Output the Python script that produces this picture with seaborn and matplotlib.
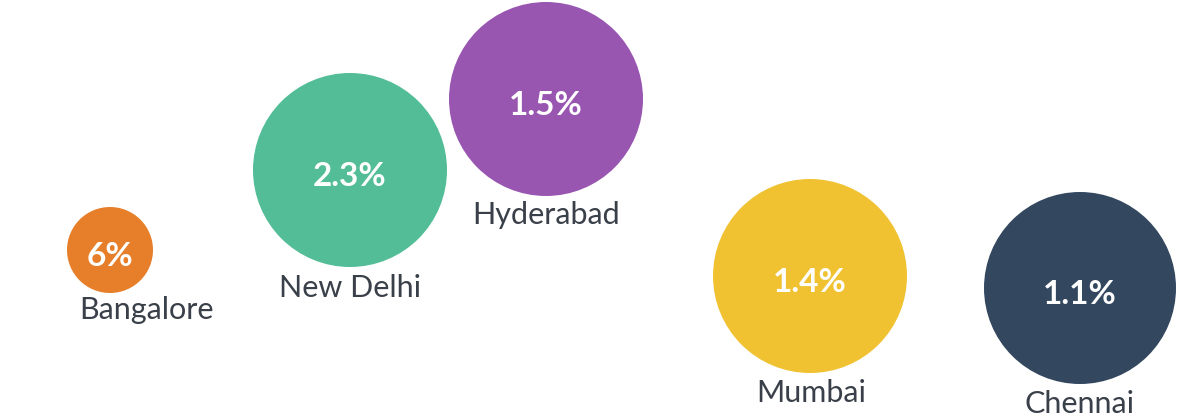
import numpy as np
import pandas as pd
import matplotlib
matplotlib.use("Agg")
import matplotlib.pyplot as plt
import seaborn as sns

# ---- data ----
cities = ["Bangalore", "New Delhi", "Hyderabad", "Mumbai", "Chennai"]
values = [6, 2.3, 1.5, 1.4, 1.1]

# ---- style ----
colors = ["#E67E2A", "#53BD98", "#9856B1", "#F0C232", "#33475E"]
radius_px = {"Bangalore": 43, "New Delhi": 97, "Hyderabad": 97, "Mumbai": 97, "Chennai": 96}
label_dx = {"Bangalore": 36, "New Delhi": 0, "Hyderabad": 0, "Mumbai": 1, "Chennai": 0}
label_gap = {"Bangalore": 26, "New Delhi": 30, "Hyderabad": 28, "Mumbai": 29, "Chennai": 29}

# ---- layout (bubble centres on a free canvas) ----
layout_x = [110, 350, 546, 810, 1080]
layout_y = [250, 170, 99, 276, 288]

DPI = 100
W, H = 1178, 418

df = pd.DataFrame({"city": cities, "value": values, "x": layout_x, "y": layout_y})

sns.set_theme(style="white")
plt.rcParams["font.family"] = ["Lato", "DejaVu Sans"]

fig = plt.figure(figsize=(W / DPI, H / DPI), dpi=DPI)
ax = fig.add_axes([0, 0, 1, 1])
ax.set_xlim(0, W)
ax.set_ylim(H, 0)
ax.set_axis_off()

# marker area in points^2 from radius in pixels
sizes = {c: (2 * r * 72 / DPI) ** 2 for c, r in radius_px.items()}
palette = dict(zip(cities, colors))

sns.scatterplot(data=df, x="x", y="y", hue="city", size="city",
                palette=palette, sizes=sizes, legend=False,
                linewidth=0, alpha=1, ax=ax)

for _, row in df.iterrows():
    c = row["city"]
    ax.annotate(f"{row['value']:g}%", (row["x"], row["y"]),
                xytext=(0, -16), textcoords="offset pixels",
                ha="center", va="baseline", color="white",
                fontsize=24, fontweight="bold")
    r = radius_px[c]
    ax.annotate(c, (row["x"], row["y"]),
                xytext=(label_dx[c], -(r + label_gap[c])), textcoords="offset pixels",
                ha="center", va="baseline", color="#3A4049",
                fontsize=22)

fig.savefig("out.png", dpi=DPI, facecolor="white")
